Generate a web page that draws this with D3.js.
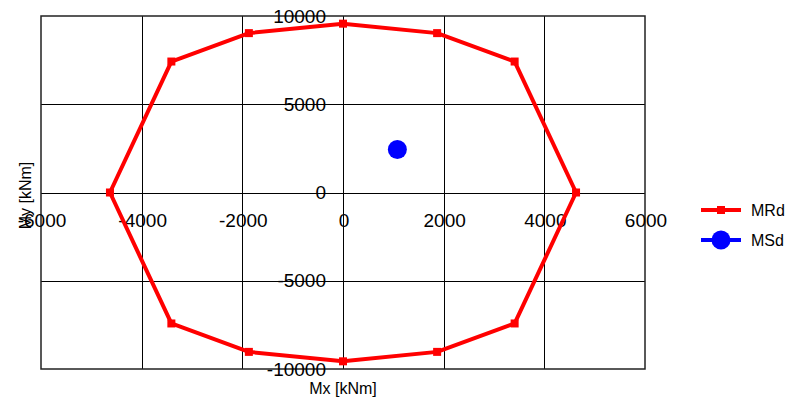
<!DOCTYPE html>
<html>
<head>
<meta charset="utf-8">
<script src="https://cdn.jsdelivr.net/npm/d3@7"></script>
<style>
  html, body { margin: 0; padding: 0; background: #fff; }
  svg { display: block; font-family: "Liberation Sans", Arial, sans-serif; }
</style>
</head>
<body>
<svg id="chart" width="787" height="403"></svg>
<script>
// Interaction diagram: resistance contour MRd and design moment MSd
const mrdMx = [0, 1870, 3410, 4630, 3410, 1870, 0, -1870, -3410, -4630, -3410, -1870, 0];
const mrdMy = [9565, 9030, 7420, 0, -7420, -9030, -9565, -9030, -7420, 0, 7420, 9030, 9565];
const msdMx = [1080];
const msdMy = [2440];
const xTicks = [-6000, -4000, -2000, 0, 2000, 4000, 6000];
const yTicks = [-10000, -5000, 0, 5000, 10000];
const seriesNames = ["MRd", "MSd"];
const xTitle = "Mx [kNm]";
const yTitle = "My [kNm]";

const svg = d3.select("#chart");
const plot = { left: 41, right: 645, top: 16, bottom: 369 };

const x = d3.scaleLinear().domain([-6000, 6000]).range([plot.left, plot.right]);
const y = d3.scaleLinear().domain([-10000, 10000]).range([plot.bottom, plot.top]);

// grid
const grid = svg.append("g").attr("stroke", "#000").attr("stroke-width", 1);
grid.selectAll(".vx").data(xTicks.slice(1, -1)).join("line")
  .attr("x1", d => Math.round(x(d)) + 0.5).attr("x2", d => Math.round(x(d)) + 0.5)
  .attr("y1", plot.top).attr("y2", plot.bottom);
grid.selectAll(".hy").data(yTicks.slice(1, -1)).join("line")
  .attr("y1", d => Math.round(y(d)) + 0.5).attr("y2", d => Math.round(y(d)) + 0.5)
  .attr("x1", plot.left).attr("x2", plot.right);

// frame
svg.append("rect")
  .attr("x", plot.left).attr("y", plot.top)
  .attr("width", plot.right - plot.left).attr("height", plot.bottom - plot.top)
  .attr("fill", "none").attr("stroke", "#222").attr("stroke-width", 1.5);

// x tick labels along the My = 0 line
svg.append("g").selectAll("text").data(xTicks).join("text")
  .attr("x", d => x(d) + 1)
  .attr("y", y(0) + 34)
  .attr("text-anchor", "middle")
  .attr("font-size", 19)
  .attr("fill", "#000")
  .text(d => d3.format("d")(d).replace("−", "-"));

// y tick labels along the Mx = 0 line
svg.append("g").selectAll("text").data(yTicks).join("text")
  .attr("x", x(0) - 17)
  .attr("y", d => y(d))
  .attr("dy", "0.35em")
  .attr("text-anchor", "end")
  .attr("font-size", 19)
  .attr("fill", "#000")
  .text(d => d3.format("d")(d).replace("−", "-"));

// axis titles
svg.append("text")
  .attr("x", x(0)).attr("y", 394)
  .attr("text-anchor", "middle").attr("font-size", 16).attr("fill", "#000")
  .text(xTitle);
svg.append("text")
  .attr("transform", `translate(31, ${y(0) + 3}) rotate(-90)`)
  .attr("text-anchor", "middle").attr("font-size", 16).attr("fill", "#000")
  .text(yTitle);

// MRd contour
const mrd = mrdMx.map((v, i) => ({ mx: v, my: mrdMy[i] }));
const line = d3.line().x(d => x(d.mx)).y(d => y(d.my));
svg.append("path").datum(mrd)
  .attr("d", line)
  .attr("fill", "none").attr("stroke", "#ff0000").attr("stroke-width", 4)
  .attr("stroke-linejoin", "round");
svg.append("g").selectAll("rect").data(mrd.slice(0, -1)).join("rect")
  .attr("x", d => x(d.mx) - 4).attr("y", d => y(d.my) - 4)
  .attr("width", 8).attr("height", 8).attr("fill", "#ff0000");

// MSd point
const msd = msdMx.map((v, i) => ({ mx: v, my: msdMy[i] }));
svg.append("g").selectAll("circle").data(msd).join("circle")
  .attr("cx", d => x(d.mx)).attr("cy", d => y(d.my))
  .attr("r", 9.5).attr("fill", "#0000ff");

// legend
const legend = svg.append("g");
const colors = ["#ff0000", "#0000ff"];
seriesNames.forEach((name, i) => {
  const ly = 210 + i * 30;
  legend.append("line")
    .attr("x1", 701).attr("x2", 741).attr("y1", ly).attr("y2", ly)
    .attr("stroke", colors[i]).attr("stroke-width", 4);
  if (i === 0) {
    legend.append("rect").attr("x", 717).attr("y", ly - 4)
      .attr("width", 8).attr("height", 8).attr("fill", colors[i]);
  } else {
    legend.append("circle").attr("cx", 721).attr("cy", ly).attr("r", 9.5).attr("fill", colors[i]);
  }
  legend.append("text")
    .attr("x", 751).attr("y", ly).attr("dy", "0.35em")
    .attr("font-size", 16).attr("fill", "#000")
    .text(name);
});
</script>
</body>
</html>
